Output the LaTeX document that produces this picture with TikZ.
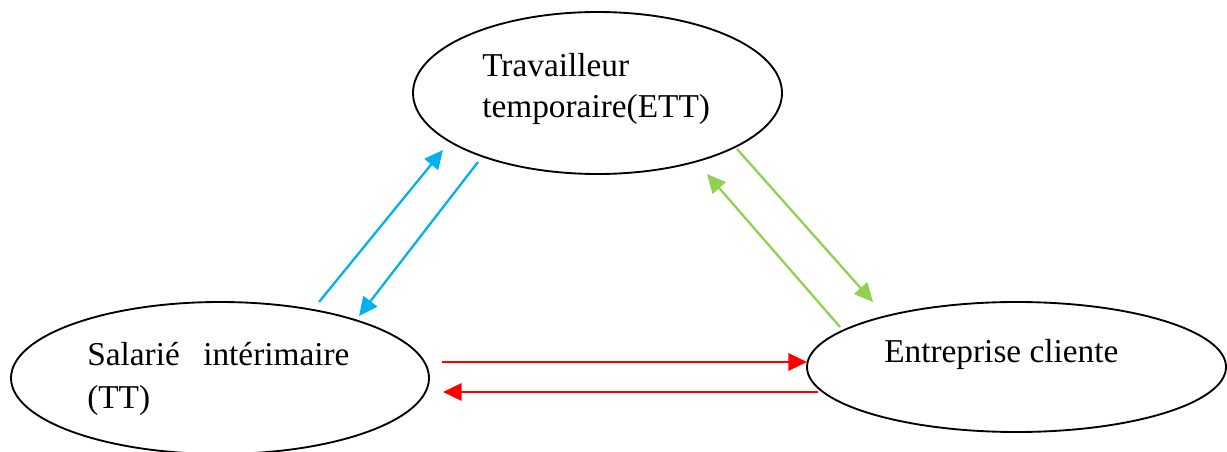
\documentclass[tikz,border=0pt]{standalone}
\usepackage{fontspec}
\setmainfont{Liberation Serif}
\usetikzlibrary{shapes.geometric,arrows.meta}
\definecolor{cblue}{HTML}{00B0F0}
\definecolor{cgreen}{HTML}{92D050}
\definecolor{cred}{HTML}{FF0000}
\begin{document}
\begin{tikzpicture}[x=0.75pt,y=-0.75pt,
  bubble/.style={draw=black,line width=1.4pt,ellipse,inner sep=0pt,fill=none},
  lbl/.style={anchor=base west,inner sep=0pt,font=\fontsize{25}{30}\selectfont},
  link/.style={line width=1.7pt,-{Triangle[length=14pt,width=13pt]}}]
\useasboundingbox (0,0) rectangle (1227,452);
% ellipses
\node[bubble,minimum width=276.75pt,minimum height=121.5pt] (ett) at (597.5,93) {};
\node[bubble,minimum width=313.5pt,minimum height=114pt] (tt) at (220,378) {};
\node[bubble,minimum width=314.25pt,minimum height=97.5pt] (ec) at (1016.5,367) {};
% labels
\node[lbl] (l1) at (482,77) {Travailleur};
\node[lbl] (l2) at (482,118) {temporaire(ETT)};
\node[lbl] (l3) at (87,365) {Salarié};
\node[lbl] (l4) at (203,365) {intérimaire};
\node[lbl] (l5) at (87,408) {(TT)};
\node[lbl] (l6) at (884,362) {Entreprise cliente};
% arrow end points
\coordinate (b1s) at (319,302); \coordinate (b1e) at (443,150);
\coordinate (b2s) at (478,162); \coordinate (b2e) at (359,316);
\coordinate (g1s) at (737,149); \coordinate (g1e) at (873,302);
\coordinate (g2s) at (840,327); \coordinate (g2e) at (707,174);
\coordinate (r1s) at (442,362); \coordinate (r1e) at (807,362);
\coordinate (r2s) at (818,392); \coordinate (r2e) at (443,392);
% connectors
\draw[link,cblue] (b1s) -- (b1e);
\draw[link,cblue] (b2s) -- (b2e);
\draw[link,cgreen] (g1s) -- (g1e);
\draw[link,cgreen] (g2s) -- (g2e);
\draw[link,cred] (r1s) -- (r1e);
\draw[link,cred] (r2s) -- (r2e);
\end{tikzpicture}
\end{document}
